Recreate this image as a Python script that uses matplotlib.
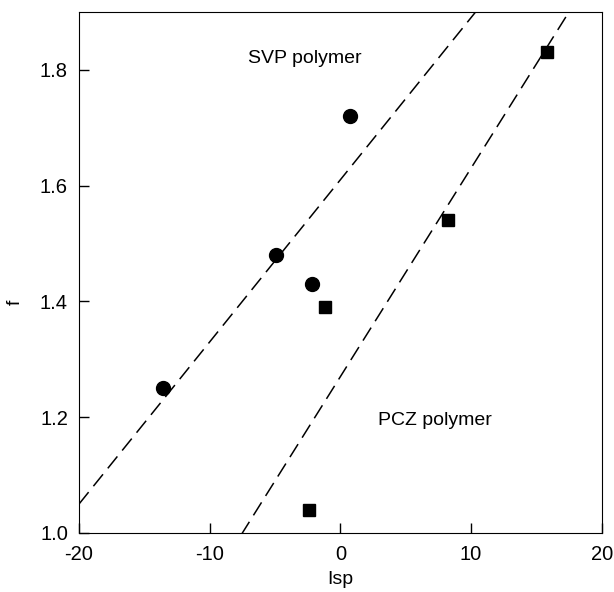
import numpy as np
import matplotlib
matplotlib.use('Agg')
import matplotlib.pyplot as plt

plt.rcParams['font.family'] = ['Liberation Sans', 'DejaVu Sans']
plt.rcParams['axes.unicode_minus'] = False

# SVP polymer (circles)
svp_isp = [-13.6, -4.9, -2.2, 0.7]
svp_f = [1.25, 1.48, 1.43, 1.72]

# PCZ polymer (squares)
pcz_isp = [-2.4, -1.2, 8.2, 15.8]
pcz_f = [1.04, 1.39, 1.54, 1.83]

# dashed fit lines: (slope, intercept)
svp_fit = (0.028, 1.61)
pcz_fit = (0.036, 1.27)

fig = plt.figure(figsize=(6.14, 5.92), dpi=100)
ax = fig.add_axes([0.1287, 0.0997, 0.8513, 0.8803])

xs = np.array([-20, 20])
for slope, icpt in (svp_fit, pcz_fit):
    ax.plot(xs, slope * xs + icpt, color='black', lw=1.1, dashes=(10, 5))

ax.plot(svp_isp, svp_f, 'o', color='black', markersize=10)
ax.plot(pcz_isp, pcz_f, 's', color='black', markersize=8.5)

ax.text(-2.7, 1.82, 'SVP polymer', fontsize=14, ha='center', va='center')
ax.text(7.2, 1.195, 'PCZ polymer', fontsize=14, ha='center', va='center')

ax.set_xlim(-20, 20)
ax.set_ylim(1.0, 1.9)
ax.set_xticks([-20, -10, 0, 10, 20])
ax.set_yticks([1.0, 1.2, 1.4, 1.6, 1.8])
ax.set_yticklabels(['1.0', '1.2', '1.4', '1.6', '1.8'])
ax.tick_params(direction='in', length=7, width=1, labelsize=14.5)
ax.tick_params(axis='x', pad=9)
ax.tick_params(axis='y', pad=8)
ax.set_xlabel('Isp', fontsize=14, labelpad=5)
ax.set_ylabel('f', fontsize=14)
ax.yaxis.set_label_coords(-0.105, 0.443)

fig.savefig('out.png', dpi=100)
